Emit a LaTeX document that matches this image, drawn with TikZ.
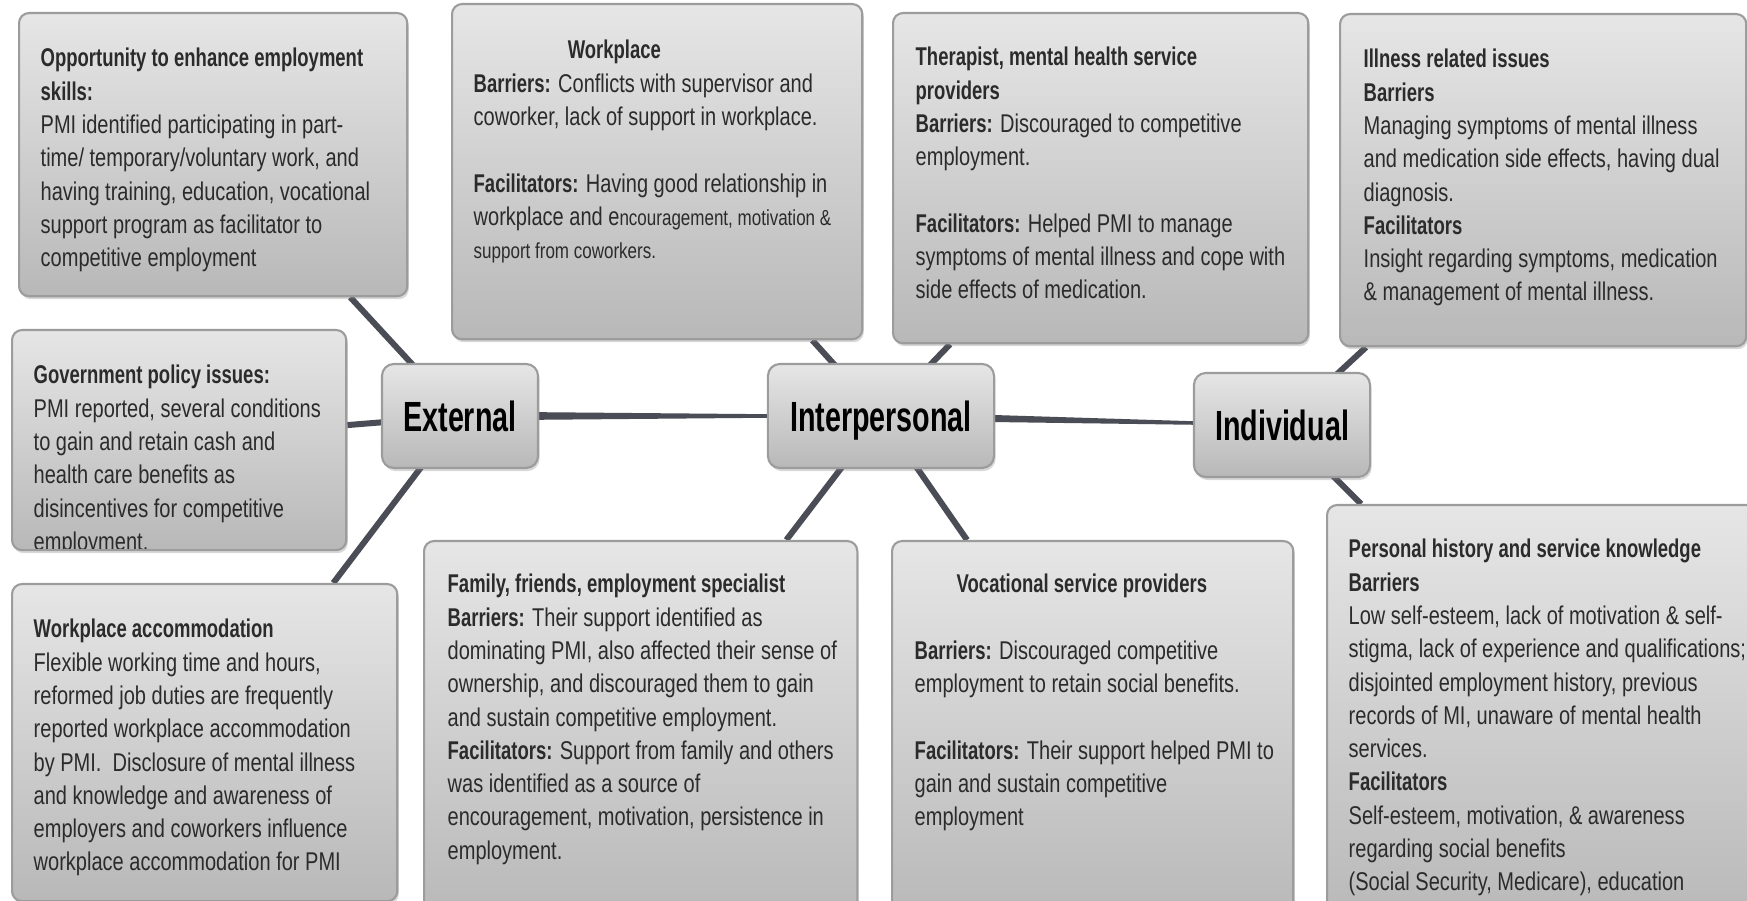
\documentclass[tikz,border=0pt]{standalone}
\usepackage{fontspec}
\setmainfont{Liberation Sans}[FakeStretch=0.78, BoldFeatures={FakeStretch=0.72}]
\newfontfamily\hubfont{Liberation Sans}[FakeStretch=0.68]
\usetikzlibrary{shadows}
\usetikzlibrary{backgrounds}

\definecolor{paneltop}{HTML}{E6E6E6}
\definecolor{panelbottom}{HTML}{B8B8B8}
\definecolor{panelrim}{HTML}{9C9C9C}
\definecolor{branch}{HTML}{4A4D56}
\definecolor{bodyink}{HTML}{2B2B2B}

% smaller type used inside one of the boxes
\newcommand{\smallpart}[1]{{\fontsize{6.2pt}{9.47pt}\selectfont #1}}

\begin{document}
\begin{tikzpicture}[x=0.01cm, y=-0.01cm,
  panel/.style={draw=panelrim, line width=0.6pt, rounded corners=0.1cm,
    top color=paneltop, bottom color=panelbottom,
    drop shadow={opacity=0.3, shadow xshift=0.015cm, shadow yshift=-0.03cm},
    anchor=north west, inner sep=0pt},
  hub/.style={panel, anchor=center, rounded corners=0.12cm, text=black,
    font=\hubfont\fontsize{12pt}{14pt}\selectfont\bfseries,
    text height=8.6pt, text depth=0pt},
  notes/.style={anchor=north west, align=left, inner sep=0pt, text=bodyink,
    font=\fontsize{7.3pt}{9.47pt}\selectfont},
  link/.style={draw=branch, line width=0.06cm}]
\path[use as bounding box] (0,0) rectangle (1747,901);
\clip (0,0) rectangle (1747,901);

% top row
\node[panel, minimum width=3.88cm, minimum height=2.83cm] (opportunity) at (18,12) {};
\node[notes] (opportunity_text) at (40,47.5) {\textbf{Opportunity to enhance employment}\\
\textbf{skills:}\\
PMI identified participating in part-\\
time/ temporary/voluntary work, and\\
having training, education, vocational\\
support program as facilitator to\\
competitive employment};

\node[panel, minimum width=4.10cm, minimum height=3.35cm] (workplace) at (451,3) {};
\node[notes] (workplace_text) at (473,39.5) {\hspace*{0.94cm}\textbf{Workplace}\\
\textbf{Barriers:} Conflicts with supervisor and\\
coworker, lack of support in workplace.\\[9.47pt]
\textbf{Facilitators:} Having good relationship in\\
workplace and e\smallpart{ncouragement, motivation \&}\\
\smallpart{support from coworkers.}};

\node[panel, minimum width=4.15cm, minimum height=3.30cm] (therapist) at (892,12) {};
\node[notes] (therapist_text) at (915,46.5) {\textbf{Therapist, mental health service}\\
\textbf{providers}\\
\textbf{Barriers:} Discouraged to competitive\\
employment.\\[9.47pt]
\textbf{Facilitators:} Helped PMI to manage\\
symptoms of mental illness and cope with\\
side effects of medication.};

\node[panel, minimum width=4.06cm, minimum height=3.32cm] (illness) at (1339,13) {};
\node[notes] (illness_text) at (1363,48.5) {\textbf{Illness related issues}\\
\textbf{Barriers}\\
Managing symptoms of mental illness\\
and medication side effects, having dual\\
diagnosis.\\
\textbf{Facilitators}\\
Insight regarding symptoms, medication\\
\& management of mental illness.};

% middle row
\node[panel, minimum width=3.34cm, minimum height=2.20cm] (government) at (11,329) {};
\begin{scope}
\clip ([xshift=0.01cm, yshift=0.03cm]government.south west) rectangle (government.north east);
\node[notes] (government_text) at (33,364.5) {\textbf{Government policy issues:}\\
PMI reported, several conditions\\
to gain and retain cash and\\
health care benefits as\\
disincentives for competitive\\
employment.};
\end{scope}

\node[hub, minimum width=1.56cm, minimum height=1.04cm] (external) at (460,416) {External};
\node[hub, minimum width=2.26cm, minimum height=1.04cm] (interpersonal) at (881,416) {Interpersonal};
\node[hub, minimum width=1.76cm, minimum height=1.04cm] (individual) at (1282,425) {Individual};

% bottom row
\node[panel, minimum width=3.85cm, minimum height=3.17cm] (accommodation) at (11,583) {};
\node[notes] (accommodation_text) at (33,618.5) {\textbf{Workplace accommodation}\\
Flexible working time and hours,\\
reformed job duties are frequently\\
reported workplace accommodation\\
by PMI.\ \ Disclosure of mental illness\\
and knowledge and awareness of\\
employers and coworkers influence\\
workplace accommodation for PMI};

\node[panel, minimum width=4.33cm, minimum height=3.80cm] (family) at (423,540) {};
\node[notes] (family_text) at (447,573.5) {\textbf{Family, friends, employment specialist}\\
\textbf{Barriers:} Their support identified as\\
dominating PMI, also affected their sense of\\
ownership, and discouraged them to gain\\
and sustain competitive employment.\\
\textbf{Facilitators:} Support from family and others\\
was identified as a source of\\
encouragement, motivation, persistence in\\
employment.};

\node[panel, minimum width=4.01cm, minimum height=3.80cm] (vocational) at (891,540) {};
\node[notes] (vocational_text) at (914,573.5) {\hspace*{0.42cm}\textbf{Vocational service providers}\\[9.47pt]
\textbf{Barriers:} Discouraged competitive\\
employment to retain social benefits.\\[9.47pt]
\textbf{Facilitators:} Their support helped PMI to\\
gain and sustain competitive\\
employment};

\node[panel, minimum width=4.40cm, minimum height=4.20cm] (personal) at (1326,504) {};
\node[notes] (personal_text) at (1348,538.5) {\textbf{Personal history and service knowledge}\\
\textbf{Barriers}\\
Low self-esteem, lack of motivation \& self-\\
stigma, lack of experience and qualifications;\\
disjointed employment history, previous\\
records of MI, unaware of mental health\\
services.\\
\textbf{Facilitators}\\
Self-esteem, motivation, \& awareness\\
regarding social benefits\\
(Social Security, Medicare), education};

% branches, kept behind the boxes
\begin{scope}[on background layer]
\fill[white] (0,0) rectangle (1747,901);
\draw[link] (external.center) -- ([xshift=-0.58cm]opportunity.south east);
\draw[link] (external.center) -- ([yshift=0.15cm]government.east);
\draw[link] (external.center) -- ([xshift=-0.65cm]accommodation.north east);
\fill[branch] ([yshift=0.045cm]external.center) -- ([yshift=0.008cm]interpersonal.center)
  -- ([yshift=-0.008cm]interpersonal.center) -- ([yshift=-0.045cm]external.center) -- cycle;
\draw[link] (interpersonal.center) -- ([xshift=-0.51cm]workplace.south east);
\draw[link] (interpersonal.center) -- ([xshift=0.58cm]therapist.south west);
\draw[link] (interpersonal.center) -- ([xshift=-0.72cm]family.north east);
\draw[link] (interpersonal.center) -- ([xshift=0.76cm]vocational.north west);
\fill[branch] ([yshift=0.045cm]interpersonal.center) -- ([yshift=0.01cm]individual.center)
  -- ([yshift=-0.01cm]individual.center) -- ([yshift=-0.045cm]interpersonal.center) -- cycle;
\draw[link] (individual.center) -- ([xshift=0.27cm]illness.south west);
\draw[link] (individual.center) -- ([xshift=0.35cm]personal.north west);
\end{scope}
\end{tikzpicture}
\end{document}
